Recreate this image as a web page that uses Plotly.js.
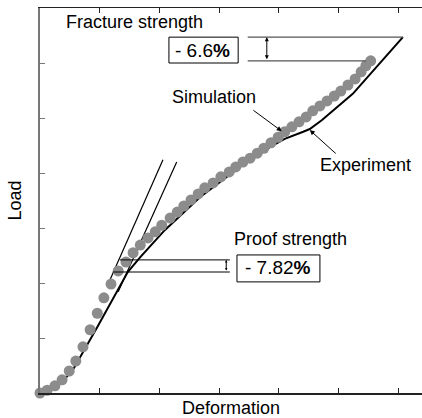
<!DOCTYPE html>
<html><head><meta charset="utf-8">
<script src="https://cdn.plot.ly/plotly-3.0.1.min.js"></script>
<style>html,body{margin:0;padding:0;background:#fff}</style>
</head><body><div id="chart" style="width:422px;height:418px"></div>
<script>
// Simulation (dots)
var simX = [0,0.12,0.25,0.37,0.49,0.60,0.72,0.84,0.96,1.07,1.19,1.31,1.44,1.56,1.68,1.81,1.93,2.04,2.18,2.30,2.41,2.53,2.65,2.76,2.90,3.03,3.17,3.28,3.40,3.52,3.64,3.75,3.87,3.99,4.10,4.22,4.34,4.46,4.57,4.69,4.81,4.93,5.04,5.16,5.28,5.38,5.46,5.54];
var simY = [0,0.05,0.13,0.24,0.40,0.58,0.84,1.15,1.45,1.73,1.98,2.22,2.38,2.55,2.69,2.82,2.93,3.05,3.18,3.29,3.40,3.51,3.62,3.73,3.82,3.93,4.02,4.11,4.20,4.27,4.36,4.45,4.55,4.65,4.75,4.84,4.93,5.02,5.13,5.22,5.31,5.40,5.49,5.60,5.71,5.84,5.95,6.04];
// Experiment (line)
var expX = [0,0.20,0.37,0.55,0.97,1.29,1.47,1.68,2.09,2.68,3.35,3.85,4.10,4.41,4.52,4.72,5.24,6.08];
var expY = [0,0.07,0.20,0.42,1.22,1.85,2.20,2.47,2.96,3.56,4.11,4.47,4.62,4.75,4.80,4.96,5.44,6.47];
// Elastic tangent (offset) lines
var tanSimX = [1.17,2.06], tanSimY = [2.05,4.24];
var tanExpX = [1.31,2.29], tanExpY = [1.84,4.20];
// Proof strength levels
var proofSim = 2.42, proofExp = 2.20, proofLineX = [[1.34,3.18],[1.22,3.18]], proofArrowX = 3.12;
// Fracture strength levels
var fracExp = 6.47, fracSim = 6.04, fracLineX = [[3.48,6.08],[3.48,5.46]], fracArrowX = 3.80;
// Labels
var labels = ["Fracture strength","- 6.6<b>%</b>","Simulation","Experiment","Proof strength","- 7.82<b>%</b>"];
var labelX = [1.575,2.73,2.915,5.46,4.204,3.987];
var labelY = [6.745,6.236,5.382,4.145,2.80,2.273];
var boxes = [[2.16,6.00,3.32,6.47],[3.30,2.02,4.69,2.51]];
var simArrow = {x:4.05,y:4.76,ax:3.55,ay:5.16};
var expArrow = {x:4.52,y:4.78,ax:4.98,ay:4.33};
var xTicks = [1,2,3,4,5,6], yTicks = [1,2,3,4,5,6];

var F = "Liberation Sans, Arial, sans-serif";
var traces = [
  {x:tanSimX,y:tanSimY,mode:"lines",line:{color:"#000",width:1.2},hoverinfo:"skip"},
  {x:tanExpX,y:tanExpY,mode:"lines",line:{color:"#000",width:1.2},hoverinfo:"skip"},
  {x:expX,y:expY,mode:"lines",line:{color:"#000",width:2},hoverinfo:"skip",cliponaxis:false},
  {x:simX,y:simY,mode:"markers",marker:{color:"#8c8c8c",size:11},cliponaxis:false}
];
var shapes = [];
shapes.push({type:"line",xref:"x",yref:"y",x0:proofLineX[0][0],x1:proofLineX[0][1],y0:proofSim,y1:proofSim,line:{color:"#000",width:1}});
shapes.push({type:"line",xref:"x",yref:"y",x0:proofLineX[1][0],x1:proofLineX[1][1],y0:proofExp,y1:proofExp,line:{color:"#000",width:1}});
shapes.push({type:"line",xref:"x",yref:"y",x0:fracLineX[0][0],x1:fracLineX[0][1],y0:fracExp,y1:fracExp,line:{color:"#555",width:1.3}});
shapes.push({type:"line",xref:"x",yref:"y",x0:fracLineX[1][0],x1:fracLineX[1][1],y0:fracSim,y1:fracSim,line:{color:"#555",width:1.3}});
boxes.forEach(function(b){shapes.push({type:"rect",xref:"x",yref:"y",x0:b[0],y0:b[1],x1:b[2],y1:b[3],line:{color:"#000",width:1},fillcolor:"#fff",layer:"above"});});

var ann = labels.map(function(t,i){return {x:labelX[i],y:labelY[i],xref:"x",yref:"y",text:t,showarrow:false,font:{family:F,size:(i==1||i==5)?19:18,color:"#000"}};});
ann.push({x:simArrow.x,y:simArrow.y,ax:simArrow.ax,ay:simArrow.ay,axref:"x",ayref:"y",xref:"x",yref:"y",text:"",showarrow:true,arrowhead:2,arrowsize:1,arrowwidth:1,arrowcolor:"#000"});
ann.push({x:expArrow.x,y:expArrow.y,ax:expArrow.ax,ay:expArrow.ay,axref:"x",ayref:"y",xref:"x",yref:"y",text:"",showarrow:true,arrowhead:2,arrowsize:1,arrowwidth:1,arrowcolor:"#000"});
ann.push({x:fracArrowX,y:fracExp,ax:fracArrowX,ay:fracSim,axref:"x",ayref:"y",xref:"x",yref:"y",text:"",showarrow:true,arrowhead:2,arrowside:"end+start",arrowsize:0.8,arrowwidth:1,arrowcolor:"#000"});
ann.push({x:proofArrowX,y:proofSim,ax:proofArrowX,ay:proofExp,axref:"x",ayref:"y",xref:"x",yref:"y",text:"",showarrow:true,arrowhead:2,arrowside:"end+start",arrowsize:0.5,arrowwidth:1,arrowcolor:"#000"});

var layout = {
  width:422,height:418,margin:{l:40,r:0,t:8,b:25},
  paper_bgcolor:"#fff",plot_bgcolor:"#fff",showlegend:false,
  font:{family:F,size:18,color:"#000"},
  xaxis:{range:[0,6.4],tickvals:xTicks,ticks:"inside",ticklen:5,tickcolor:"#222",showticklabels:false,
    showline:true,linecolor:"#222",linewidth:1.5,mirror:"ticks",showgrid:false,zeroline:false,
    title:{text:"Deformation",font:{family:F,size:18},standoff:8}},
  yaxis:{range:[0,7],tickvals:yTicks,ticks:"inside",ticklen:5,tickcolor:"#777",showticklabels:false,
    showline:true,linecolor:"#777",linewidth:2,mirror:false,showgrid:false,zeroline:false,
    title:{text:"Load",font:{family:F,size:18},standoff:12}},
  shapes:shapes,annotations:ann
};
Plotly.newPlot("chart",traces,layout,{staticPlot:true,displayModeBar:false});
</script></body></html>
